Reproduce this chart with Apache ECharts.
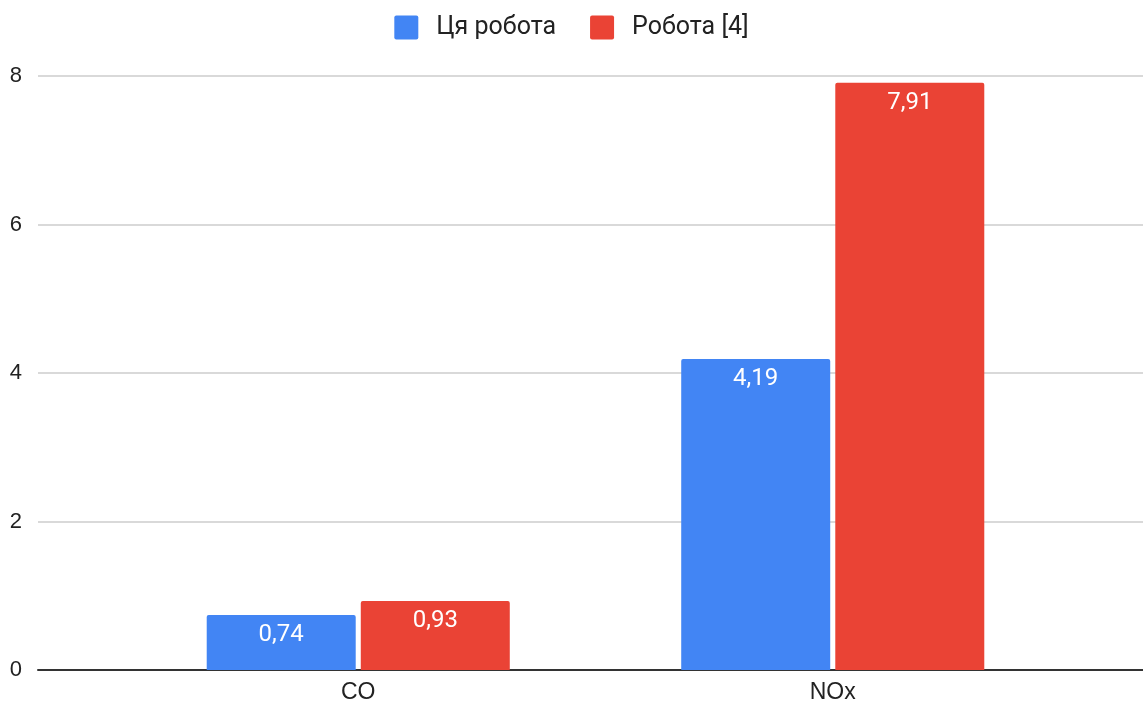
<!DOCTYPE html>
<html>
<head>
<meta charset="utf-8">
<style>
  html, body { margin: 0; padding: 0; background: #fff; }
  #chart { width: 1143px; height: 706px; }
</style>
<script src="https://cdn.jsdelivr.net/npm/echarts@6/dist/echarts.min.js"></script>
</head>
<body>
<div id="chart"></div>
<script>
// Emission comparison: this work vs. reference [4]
const categories = ['CO', 'NOx'];
const seriesNames = ['Ця робота', 'Робота [4]'];
const thisWork = [0.74, 4.19];
const reference4 = [0.93, 7.91];
const yTicks = { min: 0, max: 8, interval: 2 };

const FONT = 'Roboto, "Noto Sans", sans-serif';
const AXIS_FONT = '"Liberation Sans", Arial, sans-serif';
// square legend swatch with slightly rounded corners
const SWATCH = 'path://M2,0 H22 Q24,0 24,2 V22 Q24,24 22,24 H2 Q0,24 0,22 V2 Q0,0 2,0 Z';
const chart = echarts.init(document.getElementById('chart'));

const valueLabel = {
  show: true,
  position: 'insideTop',
  distance: 8,
  color: '#fff',
  fontFamily: FONT,
  fontSize: 24,
  formatter: p => String(p.value).replace('.', ',')
};

chart.setOption({
  animation: false,
  textStyle: { fontFamily: FONT },
  legend: {
    top: 10,
    left: 'center',
    itemWidth: 24,
    itemHeight: 24,
    itemGap: 34,
    icon: SWATCH,
    textStyle: { fontSize: 25, color: '#222', fontFamily: FONT, padding: [0, 0, 0, 13] },
    data: seriesNames
  },
  grid: [
    // full-width grid carrying gridlines, y labels and baseline
    { left: 38, right: 0, top: 76, bottom: 36 },
    // bar grid
    { left: 121, right: 73, top: 76, bottom: 36 }
  ],
  xAxis: [
    {
      gridIndex: 0, type: 'value', min: 0, max: 1,
      axisLine: { show: true, lineStyle: { color: '#333', width: 2 } },
      axisTick: { show: false }, axisLabel: { show: false }, splitLine: { show: false }
    },
    {
      gridIndex: 1, type: 'category', data: categories,
      axisLine: { show: false }, axisTick: { show: false },
      axisLabel: { color: '#222', fontSize: 23, fontFamily: AXIS_FONT, margin: 11 }
    }
  ],
  yAxis: [
    {
      gridIndex: 0, type: 'value', min: yTicks.min, max: yTicks.max, interval: yTicks.interval,
      axisLine: { show: false }, axisTick: { show: false },
      axisLabel: { color: '#222', fontSize: 22, fontFamily: AXIS_FONT, margin: 16 },
      splitLine: { lineStyle: { color: '#cccccc', width: 1.5 } }
    },
    {
      gridIndex: 1, type: 'value', min: yTicks.min, max: yTicks.max, interval: yTicks.interval,
      show: false, splitLine: { show: false }
    }
  ],
  series: [
    {
      name: seriesNames[0], type: 'bar', xAxisIndex: 1, yAxisIndex: 1,
      data: thisWork, barWidth: 149, barGap: '3.4%',
      itemStyle: { color: '#4285F4', borderRadius: [2, 2, 0, 0] },
      label: valueLabel
    },
    {
      name: seriesNames[1], type: 'bar', xAxisIndex: 1, yAxisIndex: 1,
      data: reference4, barWidth: 149, barGap: '3.4%',
      itemStyle: { color: '#EA4335', borderRadius: [2, 2, 0, 0] },
      label: valueLabel
    }
  ]
});
</script>
</body>
</html>
